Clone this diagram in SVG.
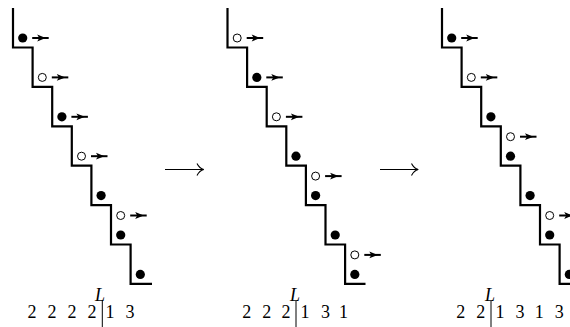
<svg xmlns="http://www.w3.org/2000/svg" xmlns:xlink="http://www.w3.org/1999/xlink" width="570" height="327" viewBox="0 0 570 327">
<style>
.stair{fill:none;stroke:#000;stroke-width:2.2;stroke-linejoin:miter}
.full{fill:#000}
.open{fill:#fff;stroke:#000;stroke-width:1}
.num{font-family:"Liberation Serif","DejaVu Serif",serif;font-size:18px;text-anchor:middle;fill:#000}
.lab{font-family:"Liberation Serif","DejaVu Serif",serif;font-size:18px;font-style:italic;text-anchor:middle;fill:#000}
.bar{stroke:#000;stroke-width:1}
.big{fill:none;stroke:#000;stroke-width:1.1}
</style>
<defs>
<g id="arr"><line x1="0" y1="0" x2="16.5" y2="0" stroke="#000" stroke-width="2"/><polygon points="5,-3.4 13.5,0 5,3.4 7,0" fill="#000"/></g>
<circle id="fb" r="4.6" class="full"/>
<circle id="ob" r="4" class="open"/>
</defs>
<rect width="570" height="327" fill="#fff"/>

<g id="panel1">
<path class="stair" d="M13,8 V47.5 H32.6 V86.9 H52.2 V126.3 H71.8 V165.7 H91.4 V205.1 H111 V244.5 H130.6 V283.9 H152"/>
<use xlink:href="#fb" x="22.7" y="38"/><use xlink:href="#arr" x="32.2" y="38"/>
<use xlink:href="#ob" x="42.3" y="77.4"/><use xlink:href="#arr" x="51.8" y="77.4"/>
<use xlink:href="#fb" x="61.9" y="116.8"/><use xlink:href="#arr" x="71.4" y="116.8"/>
<use xlink:href="#ob" x="81.5" y="156.2"/><use xlink:href="#arr" x="91" y="156.2"/>
<use xlink:href="#fb" x="101.1" y="195.6"/>
<use xlink:href="#ob" x="120.7" y="215.5"/><use xlink:href="#arr" x="130.2" y="215.5"/>
<use xlink:href="#fb" x="120.7" y="235"/>
<use xlink:href="#fb" x="140.3" y="274.4"/>
<text class="lab" x="100" y="300.5">L</text>
<text class="num" x="32" y="318">2</text><text class="num" x="52" y="318">2</text><text class="num" x="72" y="318">2</text><text class="num" x="92" y="318">2</text>
<line class="bar" x1="102.3" y1="301" x2="102.3" y2="327"/>
<text class="num" x="110" y="318">1</text><text class="num" x="130" y="318">3</text>
</g>

<g id="panel2">
<path class="stair" d="M227.5,8 V47.5 H247.1 V86.9 H266.7 V126.3 H286.3 V165.7 H305.9 V205.1 H325.5 V244.5 H345.1 V283.9 H365.5"/>
<use xlink:href="#ob" x="237.2" y="38"/><use xlink:href="#arr" x="246.7" y="38"/>
<use xlink:href="#fb" x="256.8" y="77.4"/><use xlink:href="#arr" x="266.3" y="77.4"/>
<use xlink:href="#ob" x="276.4" y="116.8"/><use xlink:href="#arr" x="285.9" y="116.8"/>
<use xlink:href="#fb" x="296" y="156.2"/>
<use xlink:href="#ob" x="315.6" y="176.1"/><use xlink:href="#arr" x="325.1" y="176.1"/>
<use xlink:href="#fb" x="315.6" y="195.6"/>
<use xlink:href="#fb" x="335.2" y="235"/>
<use xlink:href="#ob" x="354.8" y="254.9"/><use xlink:href="#arr" x="364.3" y="254.9"/>
<use xlink:href="#fb" x="354.8" y="274.4"/>
<text class="lab" x="295" y="300.5">L</text>
<text class="num" x="246.7" y="318">2</text><text class="num" x="266.7" y="318">2</text><text class="num" x="286" y="318">2</text>
<line class="bar" x1="296" y1="301" x2="296" y2="327"/>
<text class="num" x="305" y="318">1</text><text class="num" x="325.5" y="318">3</text><text class="num" x="343.5" y="318">1</text>
</g>

<g id="panel3">
<path class="stair" d="M442,8 V47.5 H461.6 V86.9 H481.2 V126.3 H500.8 V165.7 H520.4 V205.1 H540 V244.5 H559.6 V283.9 H581"/>
<use xlink:href="#fb" x="451.7" y="38"/><use xlink:href="#arr" x="461.2" y="38"/>
<use xlink:href="#ob" x="471.3" y="77.4"/><use xlink:href="#arr" x="480.8" y="77.4"/>
<use xlink:href="#fb" x="490.9" y="116.8"/>
<use xlink:href="#ob" x="510.5" y="136.7"/><use xlink:href="#arr" x="520" y="136.7"/>
<use xlink:href="#fb" x="510.5" y="156.2"/>
<use xlink:href="#fb" x="530.1" y="195.6"/>
<use xlink:href="#ob" x="549.7" y="215.5"/><use xlink:href="#arr" x="559.2" y="215.5"/>
<use xlink:href="#fb" x="549.7" y="235"/>
<use xlink:href="#fb" x="569.3" y="274.4"/>
<text class="lab" x="490" y="300.5">L</text>
<text class="num" x="460.7" y="318">2</text><text class="num" x="480.7" y="318">2</text>
<line class="bar" x1="491" y1="301" x2="491" y2="327"/>
<text class="num" x="500" y="318">1</text><text class="num" x="520" y="318">3</text><text class="num" x="539.3" y="318">1</text><text class="num" x="559.3" y="318">3</text>
</g>

<g id="connectors">
<path class="big" d="M165,169.5 H203.5 M197,163.5 Q199.5,168.5 203.8,169.5 Q199.5,170.5 197,175.5"/>
<path class="big" d="M380,169.5 H418 M411.5,163.5 Q414,168.5 418.3,169.5 Q414,170.5 411.5,175.5"/>
</g>
</svg>
